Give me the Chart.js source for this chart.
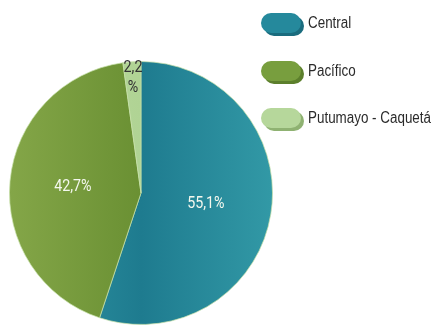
<!DOCTYPE html>
<html>
<head>
<meta charset="utf-8">
<script src="https://cdn.jsdelivr.net/npm/chart.js@4.4.1/dist/chart.umd.min.js"></script>
<style>
  html, body { margin: 0; padding: 0; background: #fff; }
  #wrap { width: 438px; height: 327px; position: relative; }
</style>
</head>
<body>
<div id="wrap"><canvas id="chart-regiones"></canvas></div>
<script>
// Datos del gráfico
const regiones = ['Central', 'Pacífico', 'Putumayo - Caquetá'];
const porcentajes = [55.1, 42.7, 2.2];
const etiquetas = ['55,1%', '42,7%', '2,2\n%'];

const COLORES = {
  base:   ['#25899c', '#789e3e', '#b6d79b'],
  oscuro: ['#1e7b8f', '#6a9033', '#b0d394'],
  claro:  ['#3299a6', '#84a648', '#bcdba3'],
  sombra: ['#1a6c7e', '#5c7f2c', '#8fb272'],
};

const FUENTE = "'Liberation Sans', Arial, sans-serif";
const FUENTE_ETQ = "Roboto, 'Liberation Sans', sans-serif";

// texto comprimido horizontalmente (simula fuente condensada)
function textoAngosto(ctx, txt, x, y, escala) {
  ctx.save();
  ctx.translate(x, y);
  ctx.scale(escala, 1);
  ctx.fillText(txt, 0, 0);
  ctx.restore();
}

// Etiquetas sobre las porciones
const etiquetasPlugin = {
  id: 'etiquetas',
  afterDatasetsDraw(chart) {
    const ctx = chart.ctx;
    const meta = chart.getDatasetMeta(0);
    const factores = [0.5, 0.52, 0.88];
    const colores = ['#f4f8ee', '#f4f8ee', '#333333'];
    ctx.save();
    ctx.textAlign = 'center';
    ctx.textBaseline = 'middle';
    ctx.font = '17px ' + FUENTE_ETQ;
    meta.data.forEach((arc, i) => {
      const p = arc.getProps(['x', 'y', 'startAngle', 'endAngle', 'outerRadius'], true);
      const ang = (p.startAngle + p.endAngle) / 2;
      const r = p.outerRadius * factores[i];
      const x = p.x + Math.cos(ang) * r;
      const y = p.y + Math.sin(ang) * r;
      const lineas = etiquetas[i].split('\n');
      ctx.fillStyle = colores[i];
      lineas.forEach((t, k) => {
        textoAngosto(ctx, t, x, y + (k - (lineas.length - 1) / 2) * 20, 0.84);
      });
    });
    ctx.restore();
  },
};

// Leyenda con marcadores tipo píldora
const leyendaPlugin = {
  id: 'leyendaPildora',
  afterDraw(chart) {
    const ctx = chart.ctx;
    const x0 = 261, w = 40, h = 20;
    const ys = [13, 61, 108];
    ctx.save();
    ctx.font = '16px ' + FUENTE;
    const escala = 123 / ctx.measureText(regiones[2]).width;
    regiones.forEach((nombre, i) => {
      const y = ys[i];
      // sombra
      ctx.fillStyle = COLORES.sombra[i];
      ctx.beginPath();
      ctx.roundRect(x0 + 3, y + 3, w, h, h / 2);
      ctx.fill();
      ctx.fillStyle = COLORES.base[i];
      ctx.beginPath();
      ctx.roundRect(x0, y, w, h, h / 2);
      ctx.fill();
      ctx.fillStyle = '#2b2b2b';
      ctx.textBaseline = 'middle';
      ctx.textAlign = 'left';
      textoAngosto(ctx, nombre, 308, y + h / 2 + 1, escala);
    });
    ctx.restore();
  },
};

function relleno(context) {
  const i = context.dataIndex;
  const chart = context.chart;
  const a = chart.chartArea;
  if (!a) return COLORES.base[i];
  const g = chart.ctx.createLinearGradient(a.left, 0, a.right, 0);
  g.addColorStop(0, COLORES.claro[i]);
  g.addColorStop(0.5, COLORES.oscuro[i]);
  g.addColorStop(1, COLORES.claro[i]);
  return g;
}

new Chart(document.getElementById('chart-regiones'), {
  type: 'pie',
  data: {
    labels: regiones,
    datasets: [{
      data: porcentajes,
      backgroundColor: relleno,
      borderColor: 'rgba(200,225,170,0.7)',
      borderWidth: 1,
    }],
  },
  options: {
    responsive: true,
    maintainAspectRatio: false,
    animation: false,
    layout: { padding: { left: 9, top: 61, right: 165, bottom: 2 } },
    plugins: {
      legend: { display: false },
      tooltip: { enabled: false },
    },
  },
  plugins: [etiquetasPlugin, leyendaPlugin],
});
</script>
</body>
</html>
